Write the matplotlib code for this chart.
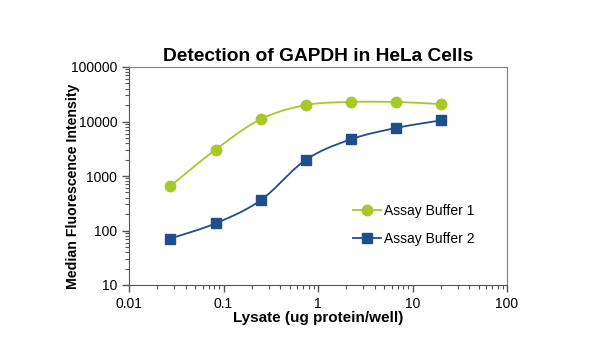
import numpy as np
import matplotlib
matplotlib.use("Agg")
import matplotlib.pyplot as plt

plt.rcParams['font.family'] = ['Liberation Sans', 'DejaVu Sans']

# lysate amounts (ug protein/well), 3-fold dilutions
lysate = [0.0274, 0.0823, 0.247, 0.741, 2.22, 6.67, 20.0]
buffer1 = [655, 3040, 11000, 20000, 22800, 22800, 20900]
buffer2 = [71, 135, 358, 1970, 4700, 7600, 10500]
labels = ['Assay Buffer 1', 'Assay Buffer 2']
colors = ['#a8c82a', '#1f4e8c']


def smooth(x, y, n=30):
    # catmull-rom through the points in log-log space (like Excel's smoothed line)
    lx = np.log10(x)
    ly = np.log10(y)
    px = np.concatenate([[2 * lx[0] - lx[1]], lx, [2 * lx[-1] - lx[-2]]])
    py = np.concatenate([[2 * ly[0] - ly[1]], ly, [2 * ly[-1] - ly[-2]]])
    xs, ys = [], []
    t = np.linspace(0, 1, n)
    for i in range(1, len(px) - 2):
        for p, out in ((px, xs), (py, ys)):
            p0, p1, p2, p3 = p[i - 1], p[i], p[i + 1], p[i + 2]
            out.append(0.5 * (2 * p1 + (-p0 + p2) * t
                              + (2 * p0 - 5 * p1 + 4 * p2 - p3) * t ** 2
                              + (-p0 + 3 * p1 - 3 * p2 + p3) * t ** 3))
    return 10 ** np.concatenate(xs), 10 ** np.concatenate(ys)


fig = plt.figure(figsize=(6, 3.47), dpi=100)
ax = fig.add_axes([129 / 600, 1 - 285 / 347, 378 / 600, 218 / 347])

for ys, lab, c, m, ms in zip([buffer1, buffer2], labels, colors, ['o', 's'], [7.5, 6.5]):
    sx, sy = smooth(lysate, ys)
    ax.plot(sx, sy, color=c, lw=1.3)
    ax.plot(lysate, ys, ls='none', marker=m, color=c, ms=ms)
    ax.plot([], [], color=c, lw=1.3, marker=m, ms=ms, label=lab)

ax.set_xscale('log')
ax.set_yscale('log')
ax.set_xlim(0.01, 100)
ax.set_ylim(10, 100000)
ax.set_xticks([0.01, 0.1, 1, 10, 100])
ax.set_xticklabels(['0.01', '0.1', '1', '10', '100'])
ax.set_yticks([10, 100, 1000, 10000, 100000])
ax.set_yticklabels(['10', '100', '1000', '10000', '100000'])
ax.tick_params(which='major', direction='out', length=5, width=1, colors='#555555',
               labelcolor='black', labelsize=10)
ax.tick_params(which='minor', direction='out', length=3, width=0.8, colors='#555555')
for s in ax.spines.values():
    s.set_color('#808080')
ax.spines['left'].set_color('#555555')
ax.spines['bottom'].set_color('#555555')

ax.set_title('Detection of GAPDH in HeLa Cells', fontsize=13.8, fontweight='bold', pad=4)
ax.set_xlabel('Lysate (ug protein/well)', fontsize=11, fontweight='bold', labelpad=0)
fig.text(73 / 600, 1 - 186 / 347, 'Median Fluorescence Intensity', rotation=90,
         ha='center', va='center', fontsize=10.2, fontweight='bold')

ax.legend(loc='center left', bbox_to_anchor=(0.56, 0.275), frameon=False,
          fontsize=10, handlelength=2.0, handletextpad=0.2, labelspacing=1.05)

fig.savefig('out.png', dpi=100)
